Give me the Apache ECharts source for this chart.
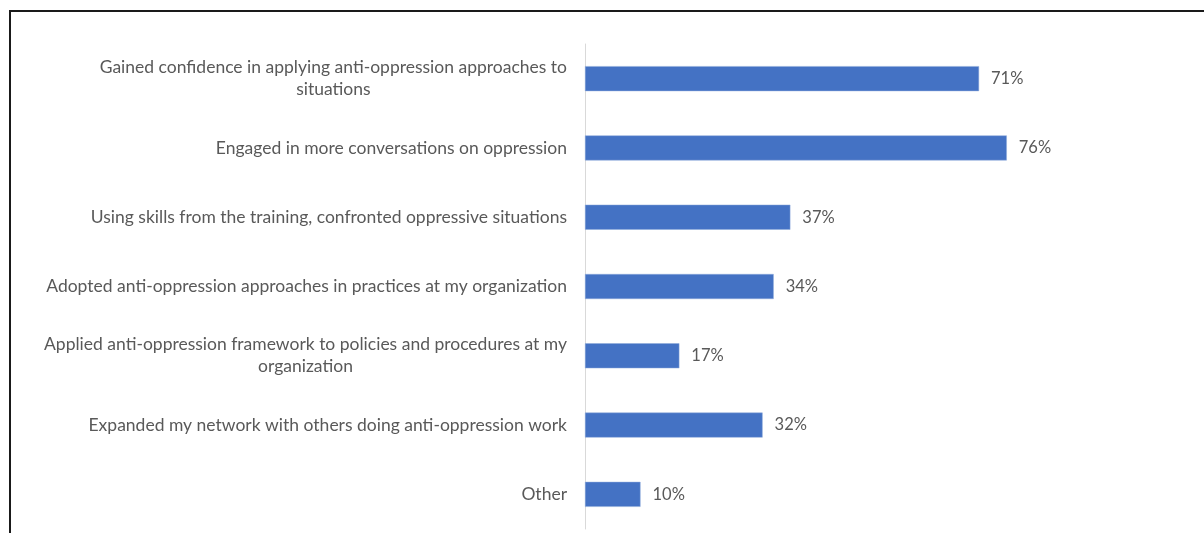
<!DOCTYPE html>
<html>
<head>
<meta charset="utf-8">
<script src="https://cdn.jsdelivr.net/npm/echarts@6/dist/echarts.min.js"></script>
<style>
  html, body { margin: 0; padding: 0; background: #fff; }
  #frame { position: absolute; left: 9px; top: 10px; width: 1300px; height: 600px;
           border-left: 2px solid #1a1a1a; border-top: 2px solid #1a1a1a; }
  #chart { position: absolute; left: 0; top: 0; width: 1204px; height: 533px; }
</style>
</head>
<body>
<div id="frame"></div>
<div id="chart"></div>
<script>
// Survey outcomes reported after the training (share of respondents, %)
const categories = [
  'Gained confidence in applying anti-oppression approaches to\nsituations',
  'Engaged in more conversations on oppression',
  'Using skills from the training, confronted oppressive situations',
  'Adopted anti-oppression approaches in practices at my organization',
  'Applied anti-oppression framework to policies and procedures at my\norganization',
  'Expanded my network with others doing anti-oppression work',
  'Other'
];
const percentages = [71, 76, 37, 34, 17, 32, 10];

const textColor = '#595959';
const fontFamily = 'Lato, "Open Sans", sans-serif';
const categoryFontSize = 17.5;

const chart = echarts.init(document.getElementById('chart'), null, { renderer: 'canvas' });
chart.setOption({
  backgroundColor: 'transparent',
  animation: false,
  grid: { left: 585, right: 64, top: 44, bottom: 4, containLabel: false },
  xAxis: {
    type: 'value',
    min: 0,
    max: 100,
    show: false
  },
  yAxis: {
    type: 'category',
    data: categories,
    inverse: true,
    axisLine: { show: true, lineStyle: { color: '#d9d9d9', width: 1 } },
    axisTick: { show: false },
    splitLine: { show: false },
    axisLabel: {
      margin: 18,
      color: textColor,
      fontFamily: fontFamily,
      fontSize: categoryFontSize,
      lineHeight: 22,
      // each wrapped line is centred under the longest one
      formatter: function (value) {
        return value.split('\n').map(function (line) { return '{c|' + line + '}'; }).join('\n');
      },
      rich: {
        c: { align: 'center', color: textColor, fontFamily: fontFamily, fontSize: categoryFontSize, lineHeight: 22 }
      }
    }
  },
  series: [{
    type: 'bar',
    data: percentages,
    barWidth: 25,
    itemStyle: { color: '#4472C4', borderColor: '#8eaadb', borderWidth: 0.5 },
    label: {
      show: true,
      position: 'right',
      distance: 12,
      formatter: '{c}%',
      color: textColor,
      fontFamily: fontFamily,
      fontSize: 16.5
    }
  }]
});
</script>
</body>
</html>
